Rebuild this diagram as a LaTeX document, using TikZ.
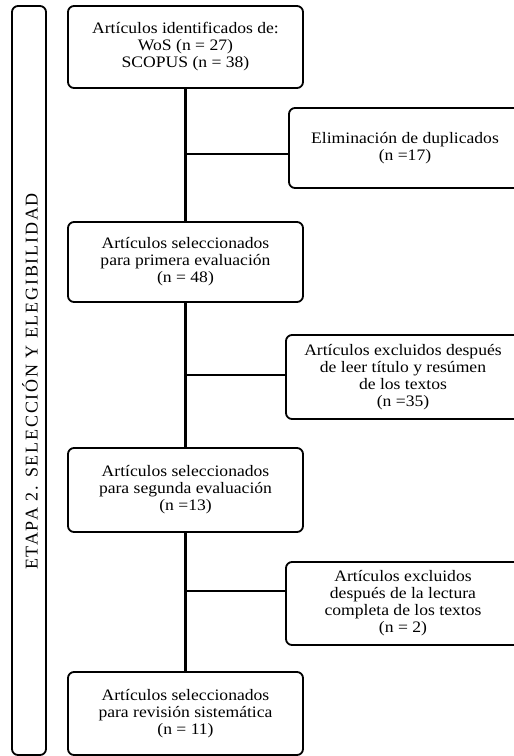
\documentclass[tikz,border=0pt]{standalone}
\usepackage{fontspec}
\setmainfont{Liberation Serif}[FakeStretch=1.1]
\newfontfamily\etapafont{Liberation Serif}[LetterSpace=10]
\tikzstyle{caja}=[draw, line width=1.8pt, rounded corners=6pt, align=center, inner sep=0pt, font=\fontsize{16}{17}\selectfont]
\tikzstyle{linea}=[line width=2.4pt]

\begin{document}
\begin{tikzpicture}[x=1pt,y=-1pt]
    \useasboundingbox (0,0) rectangle (514,756);
    \node[caja, minimum width=34pt, minimum height=749pt] (etapa) at (29,380.5) {};
    \node[rotate=90, font=\etapafont\fontsize{18}{18}\selectfont] (etq) at (30,381.5) {ETAPA 2. SELECCIÓN Y ELEGIBILIDAD};
    \node[caja, minimum width=235pt, minimum height=82pt] (ident) at (185.5,47) {Artículos identificados de:\\WoS (n = 27)\\SCOPUS (n = 38)};
    \node[caja, minimum width=232pt, minimum height=80pt] (dupl) at (405,148) {Eliminación de duplicados\\(n =17)};
    \node[caja, minimum width=235pt, minimum height=80pt] (prim) at (185.5,262) {Artículos seleccionados\\para primera evaluación\\(n = 48)};
    \node[caja, minimum width=234pt, minimum height=84pt] (excl1) at (403,377) {Artículos excluidos después\\de leer título y resúmen\\de los textos\\(n =35)};
    \node[caja, minimum width=235pt, minimum height=84pt] (segu) at (185.5,490) {Artículos seleccionados\\para segunda evaluación\\(n =13)};
    \node[caja, minimum width=234pt, minimum height=83pt] (excl2) at (403,603.5) {Artículos excluidos\\después de la lectura\\completa de los textos\\(n = 2)};
    \node[caja, minimum width=235pt, minimum height=83pt] (revi) at (185.5,713.5) {Artículos seleccionados\\para revisión sistemática\\(n = 11)};
    \coordinate (r1) at (185.5,154); \coordinate (r2) at (185.5,375); \coordinate (r3) at (185.5,591);
    \draw[linea] (ident) -- (prim); \draw[linea] (prim) -- (segu); \draw[linea] (segu) -- (revi);
    \draw[linea] (r1) -- (r1 -| dupl.west);
    \draw[linea] (r2) -- (r2 -| excl1.west);
    \draw[linea] (r3) -- (r3 -| excl2.west);
\end{tikzpicture}
\end{document}
